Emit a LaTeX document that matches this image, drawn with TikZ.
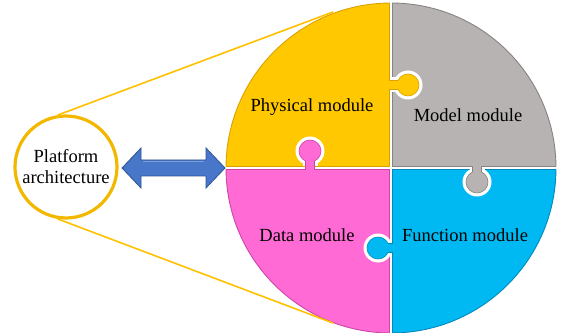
\documentclass[tikz,border=0pt]{standalone}
\usepackage{fontspec}
\setmainfont{Liberation Serif}
\usetikzlibrary{calc}
\definecolor{ylw}{HTML}{FFC800}
\definecolor{ylwdk}{HTML}{D9A200}
\definecolor{gry}{HTML}{B7B3B3}
\definecolor{grydk}{HTML}{878383}
\definecolor{pnk}{HTML}{FF6AD5}
\definecolor{pnkdk}{HTML}{CC45A8}
\definecolor{cyn}{HTML}{00B9F2}
\definecolor{cyndk}{HTML}{0089BD}
\definecolor{arrfill}{HTML}{4876C8}
\definecolor{arrdk}{HTML}{2C5296}
\definecolor{ring}{HTML}{F2B800}
\definecolor{tie}{HTML}{FFC000}
\begin{document}
\begin{tikzpicture}[x=1pt,y=1pt,
  lbl/.style={font=\fontsize{18.5}{21}\selectfont, inner sep=0pt, align=center},
  piece/.style={line width=0.9pt},
  knob/.style={line width=0.6pt},
  tieline/.style={draw=tie, line width=1.6pt}]
\useasboundingbox (0,0) rectangle (561,332);
\coordinate (C) at (391,164);

% four quarter pieces, separated by a thin white gap
\filldraw[piece, fill=ylw, draw=ylwdk] (389.5,165.5) -- ($(C)+(179.48:165)$)
  arc[start angle=179.48, end angle=90.52, radius=165pt] -- cycle;
\filldraw[piece, fill=gry, draw=grydk] (392.5,165.5) -- ($(C)+(89.48:165)$)
  arc[start angle=89.48, end angle=0.52, radius=165pt] -- cycle;
\filldraw[piece, fill=cyn, draw=cyndk] (392.5,162.5) -- ($(C)+(-0.52:165)$)
  arc[start angle=-0.52, end angle=-89.48, radius=165pt] -- cycle;
\filldraw[piece, fill=pnk, draw=pnkdk] (389.5,162.5) -- ($(C)+(-90.52:165)$)
  arc[start angle=-90.52, end angle=-179.48, radius=165pt] -- cycle;

% puzzle knobs: a white socket, then the knob of the neighbouring piece
% physical -> model
\coordinate (k1) at (408,247);
\fill[white] (k1) circle (14.5pt);
\fill[white] (391,239.5) rectangle (400,254.5);
\filldraw[knob, fill=ylw, draw=ylwdk] (389.5,251.5) -- ($(k1)+(156:11)$)
  arc[start angle=156, end angle=-156, radius=11pt] -- (389.5,242.5);
\fill[ylw] (386,243) rectangle (392,251);
% data -> physical
\coordinate (k2) at (310,181);
\fill[white] (k2) circle (14.5pt);
\fill[white] (302.5,165.5) rectangle (317.5,181);
\filldraw[knob, fill=pnk, draw=pnkdk] (314.5,162.5) -- ($(k2)+(-66:11)$)
  arc[start angle=-66, end angle=246, radius=11pt] -- (305.5,162.5);
\fill[pnk] (306,159) rectangle (314,165);
% model -> function
\coordinate (k3) at (477,150);
\fill[white] (k3) circle (14.5pt);
\fill[white] (469.5,150) rectangle (484.5,162.5);
\filldraw[knob, fill=gry, draw=grydk] (472.5,165.5) -- ($(k3)+(114:11)$)
  arc[start angle=114, end angle=426, radius=11pt] -- (481.5,165.5);
\fill[gry] (473,163) rectangle (481,169);
% function -> data
\coordinate (k4) at (378,84);
\fill[white] (k4) circle (14.5pt);
\fill[white] (378,76.5) rectangle (389.5,91.5);
\filldraw[knob, fill=cyn, draw=cyndk] (392.5,79.5) -- ($(k4)+(-24:11)$)
  arc[start angle=-24, end angle=-336, radius=11pt] -- (392.5,88.5);
\fill[cyn] (390,80) rectangle (396,88);

% module labels
\node[lbl] (phys) at (312,225) {Physical module};
\node[lbl] (model) at (468,217) {Model module};
\node[lbl] (data) at (307,97) {Data module};
\node[lbl] (func) at (465,97) {Function module};

% platform circle and the two tie lines to the big circle
\node[circle, draw=ring, line width=3.2pt, fill=white, minimum size=102pt,
  inner sep=0pt, lbl] (pc) at (66,165) {Platform\\architecture};
\coordinate (ta) at (333,320);
\coordinate (tb) at (333,9);
\draw[tieline] (pc.99) -- (ta);
\draw[tieline] (pc.261) -- (tb);

% double arrow between the platform and the modules
\filldraw[fill=arrfill, draw=arrdk, line width=0.8pt, line join=miter]
  (122,164) -- (141,184) -- (141,172) -- (206,172) -- (206,184) -- (225,164)
  -- (206,144) -- (206,156) -- (141,156) -- (141,144) -- cycle;
\draw[white, opacity=0.3, line width=1pt] (143,170) -- (204,170);
\end{tikzpicture}
\end{document}
